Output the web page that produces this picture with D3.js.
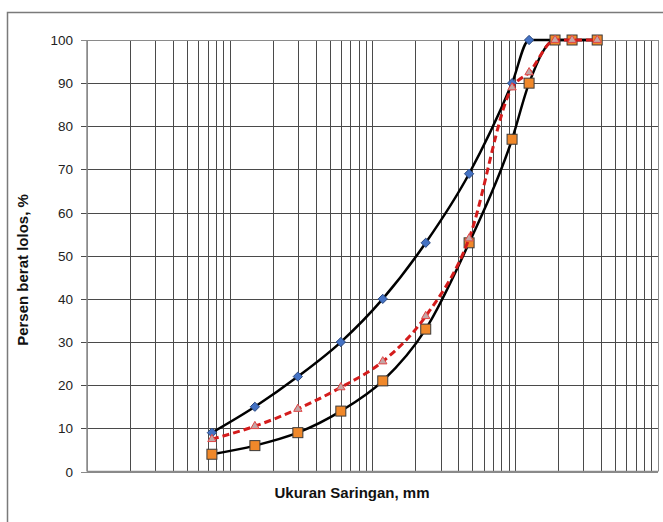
<html>
<head>
  <title>Gradasi agregat</title>
  <script src='https://d3js.org/d3.v7.min.js'></script>
  <style>
    body { margin: 0; background: #fff; }
    text { font-family: 'Liberation Sans', Arial, sans-serif; }
  </style>
</head>
<body>
<script>

// ukuran saringan (mm)
var saringan = [0.075, 0.15, 0.3, 0.6, 1.18, 2.36, 4.75, 9.5, 12.5, 19, 25, 37.5];
// batas atas / batas bawah / hasil
var batasAtas  = [9, 15, 22, 30, 40, 53, 69, 90, 100, 100, 100, 100];
var batasBawah = [4, 6, 9, 14, 21, 33, 53, 77, 90, 100, 100, 100];
var hasil      = [7.5, 10.5, 14.5, 19.5, 25.5, 36, 54, 89, 92.5, 100, 100, 100];
var yTicks = [0, 10, 20, 30, 40, 50, 60, 70, 80, 90, 100];

var width = 663,
    height = 522;

var svg = d3.select('body')
  .append('svg')
  .attr('width', width)
  .attr('height', height);

// bingkai luar
svg.append('path')
  .attr('d', 'M7.5,' + height + ' V12.5 H' + width)
  .attr('fill', 'none')
  .attr('stroke', '#7a7a7a')
  .attr('stroke-width', 1.5);

var x = d3.scaleLog().domain([0.01, 100]).range([87, 658]);
var y = d3.scaleLinear().domain([0, 100]).range([471.5, 40]);

var g = svg.append('g');

// grid vertikal (log)
var vgrid = [];
[0.01, 0.1, 1, 10].forEach(function(d){
  for (var k = 1; k < 10; k++) { vgrid.push(d * k); }
});
vgrid.push(100);

g.selectAll('.vg')
  .data(vgrid)
  .enter()
  .append('line')
  .attr('x1', function(d){ return Math.round(x(d)) + 0.5; })
  .attr('x2', function(d){ return Math.round(x(d)) + 0.5; })
  .attr('y1', y(100))
  .attr('y2', y(0))
  .attr('stroke', function(d, i){ return (i == 0 || d == 100) ? '#8a8a8a' : '#4a4a4a'; })
  .attr('stroke-width', 1);

g.selectAll('.hg')
  .data(yTicks)
  .enter()
  .append('line')
  .attr('x1', 81)
  .attr('x2', x(100))
  .attr('y1', function(d){ return Math.round(y(d)) + 0.5; })
  .attr('y2', function(d){ return Math.round(y(d)) + 0.5; })
  .attr('stroke', function(d){ return (d == 0 || d == 100) ? '#8a8a8a' : '#4a4a4a'; })
  .attr('stroke-width', 1);

// sumbu
g.append('line')
  .attr('x1', x(0.01)).attr('x2', x(0.01))
  .attr('y1', y(100)).attr('y2', y(0))
  .attr('stroke', '#8a8a8a').attr('stroke-width', 1.5);
g.append('line')
  .attr('x1', x(0.01)).attr('x2', x(100))
  .attr('y1', y(0)).attr('y2', y(0))
  .attr('stroke', '#8a8a8a').attr('stroke-width', 1.5);

g.selectAll('.yl')
  .data(yTicks)
  .enter()
  .append('text')
  .attr('x', 73)
  .attr('y', function(d){ return y(d) + 5; })
  .attr('text-anchor', 'end')
  .attr('font-size', '13.5px')
  .attr('fill', '#222')
  .text(function(d){ return d; });

svg.append('text')
  .attr('transform', 'translate(28,270) rotate(-90)')
  .attr('text-anchor', 'middle')
  .attr('font-size', '15px')
  .attr('font-weight', 'bold')
  .attr('fill', '#111')
  .text('Persen berat lolos, %');

svg.append('text')
  .attr('x', 352)
  .attr('y', 498)
  .attr('text-anchor', 'middle')
  .attr('font-size', '15px')
  .attr('font-weight', 'bold')
  .attr('fill', '#111')
  .text('Ukuran Saringan, mm');

var line = d3.line()
  .x(function(d){ return x(d[0]); })
  .y(function(d){ return y(d[1]); })
  .curve(d3.curveMonotoneX);

function pts(arr){ return saringan.map(function(s, i){ return [s, arr[i]]; }); }

// batas atas
g.append('path')
  .attr('d', line(pts(batasAtas)))
  .attr('fill', 'none')
  .attr('stroke', '#000')
  .attr('stroke-width', 2.5);
g.selectAll('.dia')
  .data(pts(batasAtas))
  .enter()
  .append('path')
  .attr('d', d3.symbol().type(d3.symbolDiamond2).size(55))
  .attr('transform', function(d){ return 'translate(' + x(d[0]) + ',' + y(d[1]) + ')'; })
  .attr('fill', '#4472c4')
  .attr('stroke', '#2c4a80')
  .attr('stroke-width', 1);

// batas bawah
g.append('path')
  .attr('d', line(pts(batasBawah)))
  .attr('fill', 'none')
  .attr('stroke', '#000')
  .attr('stroke-width', 2.5);
g.selectAll('.sq')
  .data(pts(batasBawah))
  .enter()
  .append('rect')
  .attr('x', function(d){ return x(d[0]) - 5; })
  .attr('y', function(d){ return y(d[1]) - 5; })
  .attr('width', 10)
  .attr('height', 10)
  .attr('fill', '#f0882a')
  .attr('stroke', '#3a3a3a')
  .attr('stroke-width', 1);

// hasil
g.append('path')
  .attr('d', line(pts(hasil)))
  .attr('fill', 'none')
  .attr('stroke', '#d41c1c')
  .attr('stroke-width', 3)
  .attr('stroke-dasharray', '7,4');
g.selectAll('.tri')
  .data(pts(hasil))
  .enter()
  .append('path')
  .attr('d', d3.symbol().type(d3.symbolTriangle2).size(50))
  .attr('transform', function(d){ return 'translate(' + x(d[0]) + ',' + y(d[1]) + ')'; })
  .attr('fill', '#c4a6a6')
  .attr('stroke', '#e04848')
  .attr('stroke-width', 1);

</script>
</body>
</html>
